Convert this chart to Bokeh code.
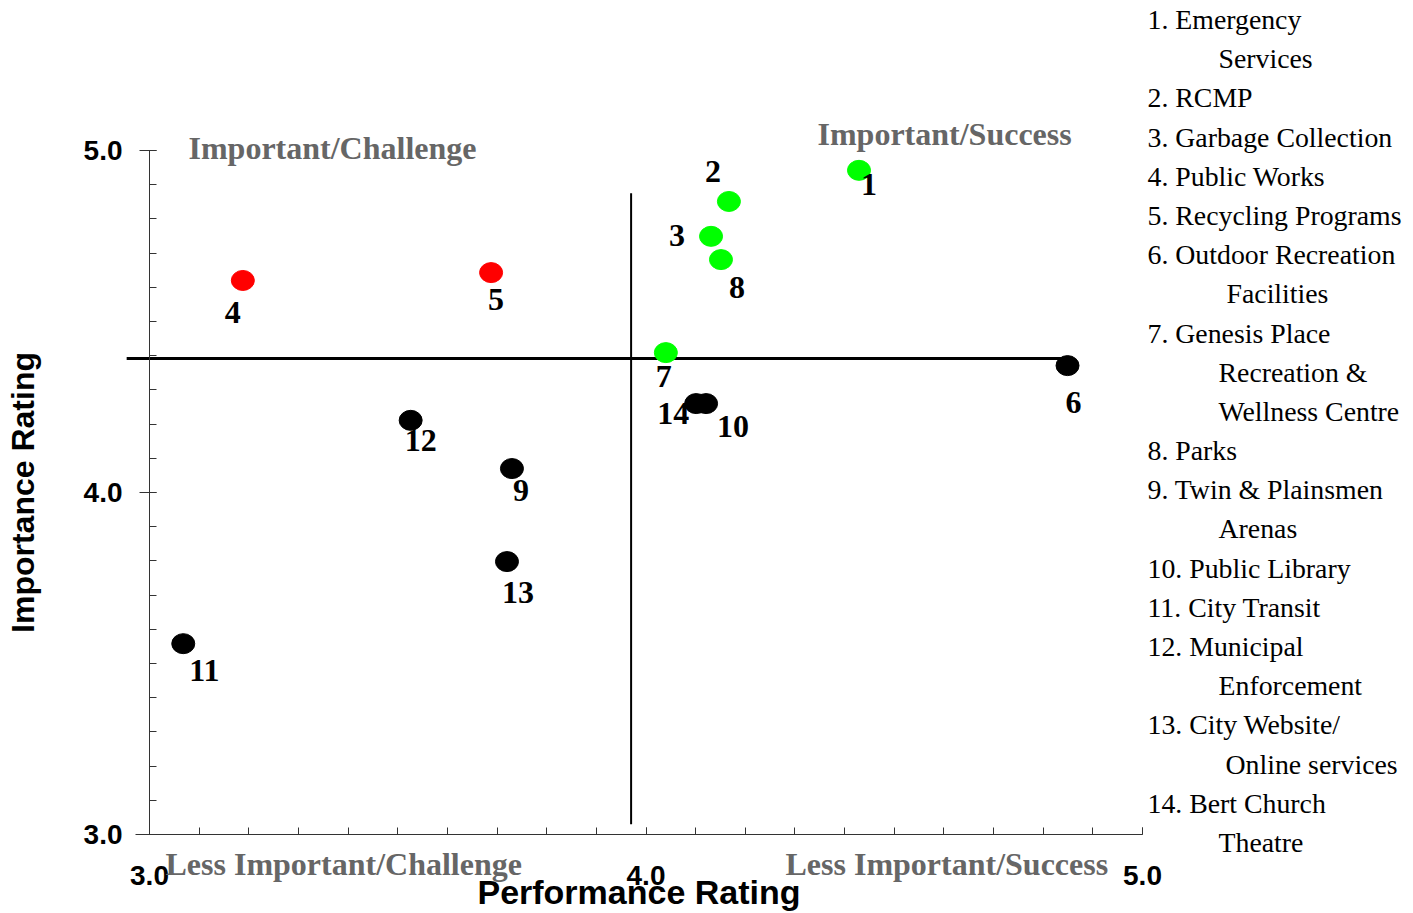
from bokeh.plotting import figure
from bokeh.models import Range1d, FixedTicker, Label, ColumnDataSource
from bokeh.core.properties import value
from bokeh.embed import file_html
from bokeh.resources import INLINE

# ---------------- data ----------------
item_ids = ["1", "2", "3", "4", "5", "6", "7", "8", "9", "10", "11", "12", "13", "14"]
performance = [4.429, 4.167, 4.131, 3.188, 3.688, 4.849, 4.040, 4.151, 3.730, 4.121, 3.068, 3.526, 3.720, 4.101]
importance = [4.942, 4.851, 4.749, 4.620, 4.643, 4.371, 4.409, 4.681, 4.070, 4.260, 3.558, 4.211, 3.798, 4.260]
point_colors = ["#00ff00", "#00ff00", "#00ff00", "#ff0000", "#ff0000", "#000000", "#00ff00",
                "#00ff00", "#000000", "#000000", "#000000", "#000000", "#000000", "#000000"]

avg_importance = 4.392
avg_importance_span = [2.954, 4.84]
avg_performance = 3.97
avg_performance_span = [3.03, 4.875]

x_major_ticks = [3.0, 4.0, 5.0]
y_major_ticks = [3.0, 4.0, 5.0]
tick_labels = {3.0: "3.0", 4.0: "4.0", 5.0: "5.0"}

quadrant_names = ["Important/Challenge", "Important/Success",
                  "Less Important/Challenge", "Less Important/Success"]

legend_lines = [
    "1. Emergency", "Services", "2. RCMP", "3. Garbage Collection", "4. Public Works",
    "5. Recycling Programs", "6. Outdoor Recreation", "Facilities", "7. Genesis Place",
    "Recreation &", "Wellness Centre", "8. Parks", "9. Twin & Plainsmen", "Arenas",
    "10. Public Library", "11. City Transit", "12. Municipal", "Enforcement",
    "13. City Website/", "Online services", "14. Bert Church", "Theatre",
]

# ---------------- layout (screen geometry) ----------------
W, H = 1405, 913
FL, FR, FT, FB = 149, 1142, 150, 834  # where 3.0 / 5.0 fall on screen
XS = (FR - FL) / 2.0
YS = (FB - FT) / 2.0


def xd(sx):
    return 3.0 + (sx - FL) / XS


def yd(sy):
    return 3.0 + (FB - sy) / YS


label_dx = [10, -16, -34, -10, 5, 6, -2, 16, 9, 27, 21, 10, 11, -23]
label_dy = [14, -30, -1, 32, 27, 37, 24, 28, 22, 23, 27, 20, 31, 10]

p = figure(width=W, height=H, output_backend="svg", toolbar_location=None,
           x_range=Range1d(xd(0), xd(W)), y_range=Range1d(yd(H), yd(0)),
           min_border_left=0, min_border_right=0, min_border_top=0, min_border_bottom=0)
p.outline_line_color = None
p.xgrid.grid_line_color = None
p.ygrid.grid_line_color = None
p.background_fill_color = "white"
p.border_fill_color = "white"

minor = [round(3.0 + 0.1 * i, 1) for i in range(21)]
p.xaxis.ticker = FixedTicker(ticks=x_major_ticks, minor_ticks=minor)
p.yaxis.ticker = FixedTicker(ticks=y_major_ticks, minor_ticks=minor)
p.xaxis.major_label_overrides = tick_labels
p.yaxis.major_label_overrides = tick_labels
p.xaxis.fixed_location = 3.0
p.yaxis.fixed_location = 3.0
p.xaxis.bounds = (xd(135), 5.0)
p.yaxis.bounds = (3.0, 5.0)

for ax in (p.xaxis[0], p.yaxis[0]):
    ax.axis_line_color = "#333333"
    ax.axis_line_width = 1
    ax.major_tick_line_color = "#333333"
    ax.minor_tick_line_color = "#333333"
    ax.major_label_text_font = "Liberation Sans"
    ax.major_label_text_font_style = "bold"
    ax.major_label_text_font_size = "28px"
    ax.major_label_text_color = "black"
    ax.axis_label_text_font = "Liberation Sans"
    ax.axis_label_text_font_style = "bold"
    ax.axis_label_text_color = "black"

p.xaxis.axis_label = "Performance Rating"
p.xaxis.axis_label_text_font_size = "34px"
p.xaxis.major_tick_out = 0
p.xaxis.major_tick_in = 7
p.xaxis.minor_tick_out = 0
p.xaxis.minor_tick_in = 7
p.xaxis.major_label_standoff = 31
p.xaxis.axis_label_standoff = -15

p.yaxis.axis_label = "Importance Rating"
p.yaxis.axis_label_text_font_size = "32px"
p.yaxis.major_tick_out = 10
p.yaxis.major_tick_in = 7
p.yaxis.minor_tick_out = 0
p.yaxis.minor_tick_in = 7
p.yaxis.major_label_standoff = 17
p.yaxis.axis_label_standoff = 40

# reference lines
p.line(avg_importance_span, [avg_importance, avg_importance], line_color="black", line_width=3)
p.line([avg_performance, avg_performance], avg_performance_span, line_color="black", line_width=2)

src = ColumnDataSource(dict(x=performance, y=importance, c=point_colors, t=item_ids,
                            dx=label_dx, dy=label_dy))
p.ellipse("x", "y", width=23, height=20, width_units="screen", height_units="screen",
          fill_color="c", line_color="c", source=src)
p.text("x", "y", text="t", x_offset="dx", y_offset="dy", source=src,
       text_font=value("Liberation Serif"), text_font_style="bold", text_font_size="32px",
       text_color="black", text_align="center", text_baseline="middle")

# quadrant captions
quad_pos = [(188, 147), (817, 133), (165, 863), (785, 863)]
for name, (sx, sy) in zip(quadrant_names, quad_pos):
    p.add_layout(Label(x=xd(sx), y=yd(sy), text=name, text_font="Liberation Serif",
                       text_font_style="bold", text_font_size="32px", text_color="#666666",
                       text_align="left", text_baseline="middle"))

# legend list on the right
indent = {"Services": 1218, "Facilities": 1226, "Recreation &": 1218, "Wellness Centre": 1218,
          "Arenas": 1218, "Enforcement": 1218, "Online services": 1225, "Theatre": 1218}
for i, line in enumerate(legend_lines):
    sx = indent.get(line, 1147)
    sy = 19 + i * 39.19
    p.add_layout(Label(x=xd(sx), y=yd(sy), text=line, text_font="Liberation Serif",
                       text_font_size="27.8px", text_color="black",
                       text_align="left", text_baseline="middle"))

open("out.html", "w").write(file_html(p, INLINE))
